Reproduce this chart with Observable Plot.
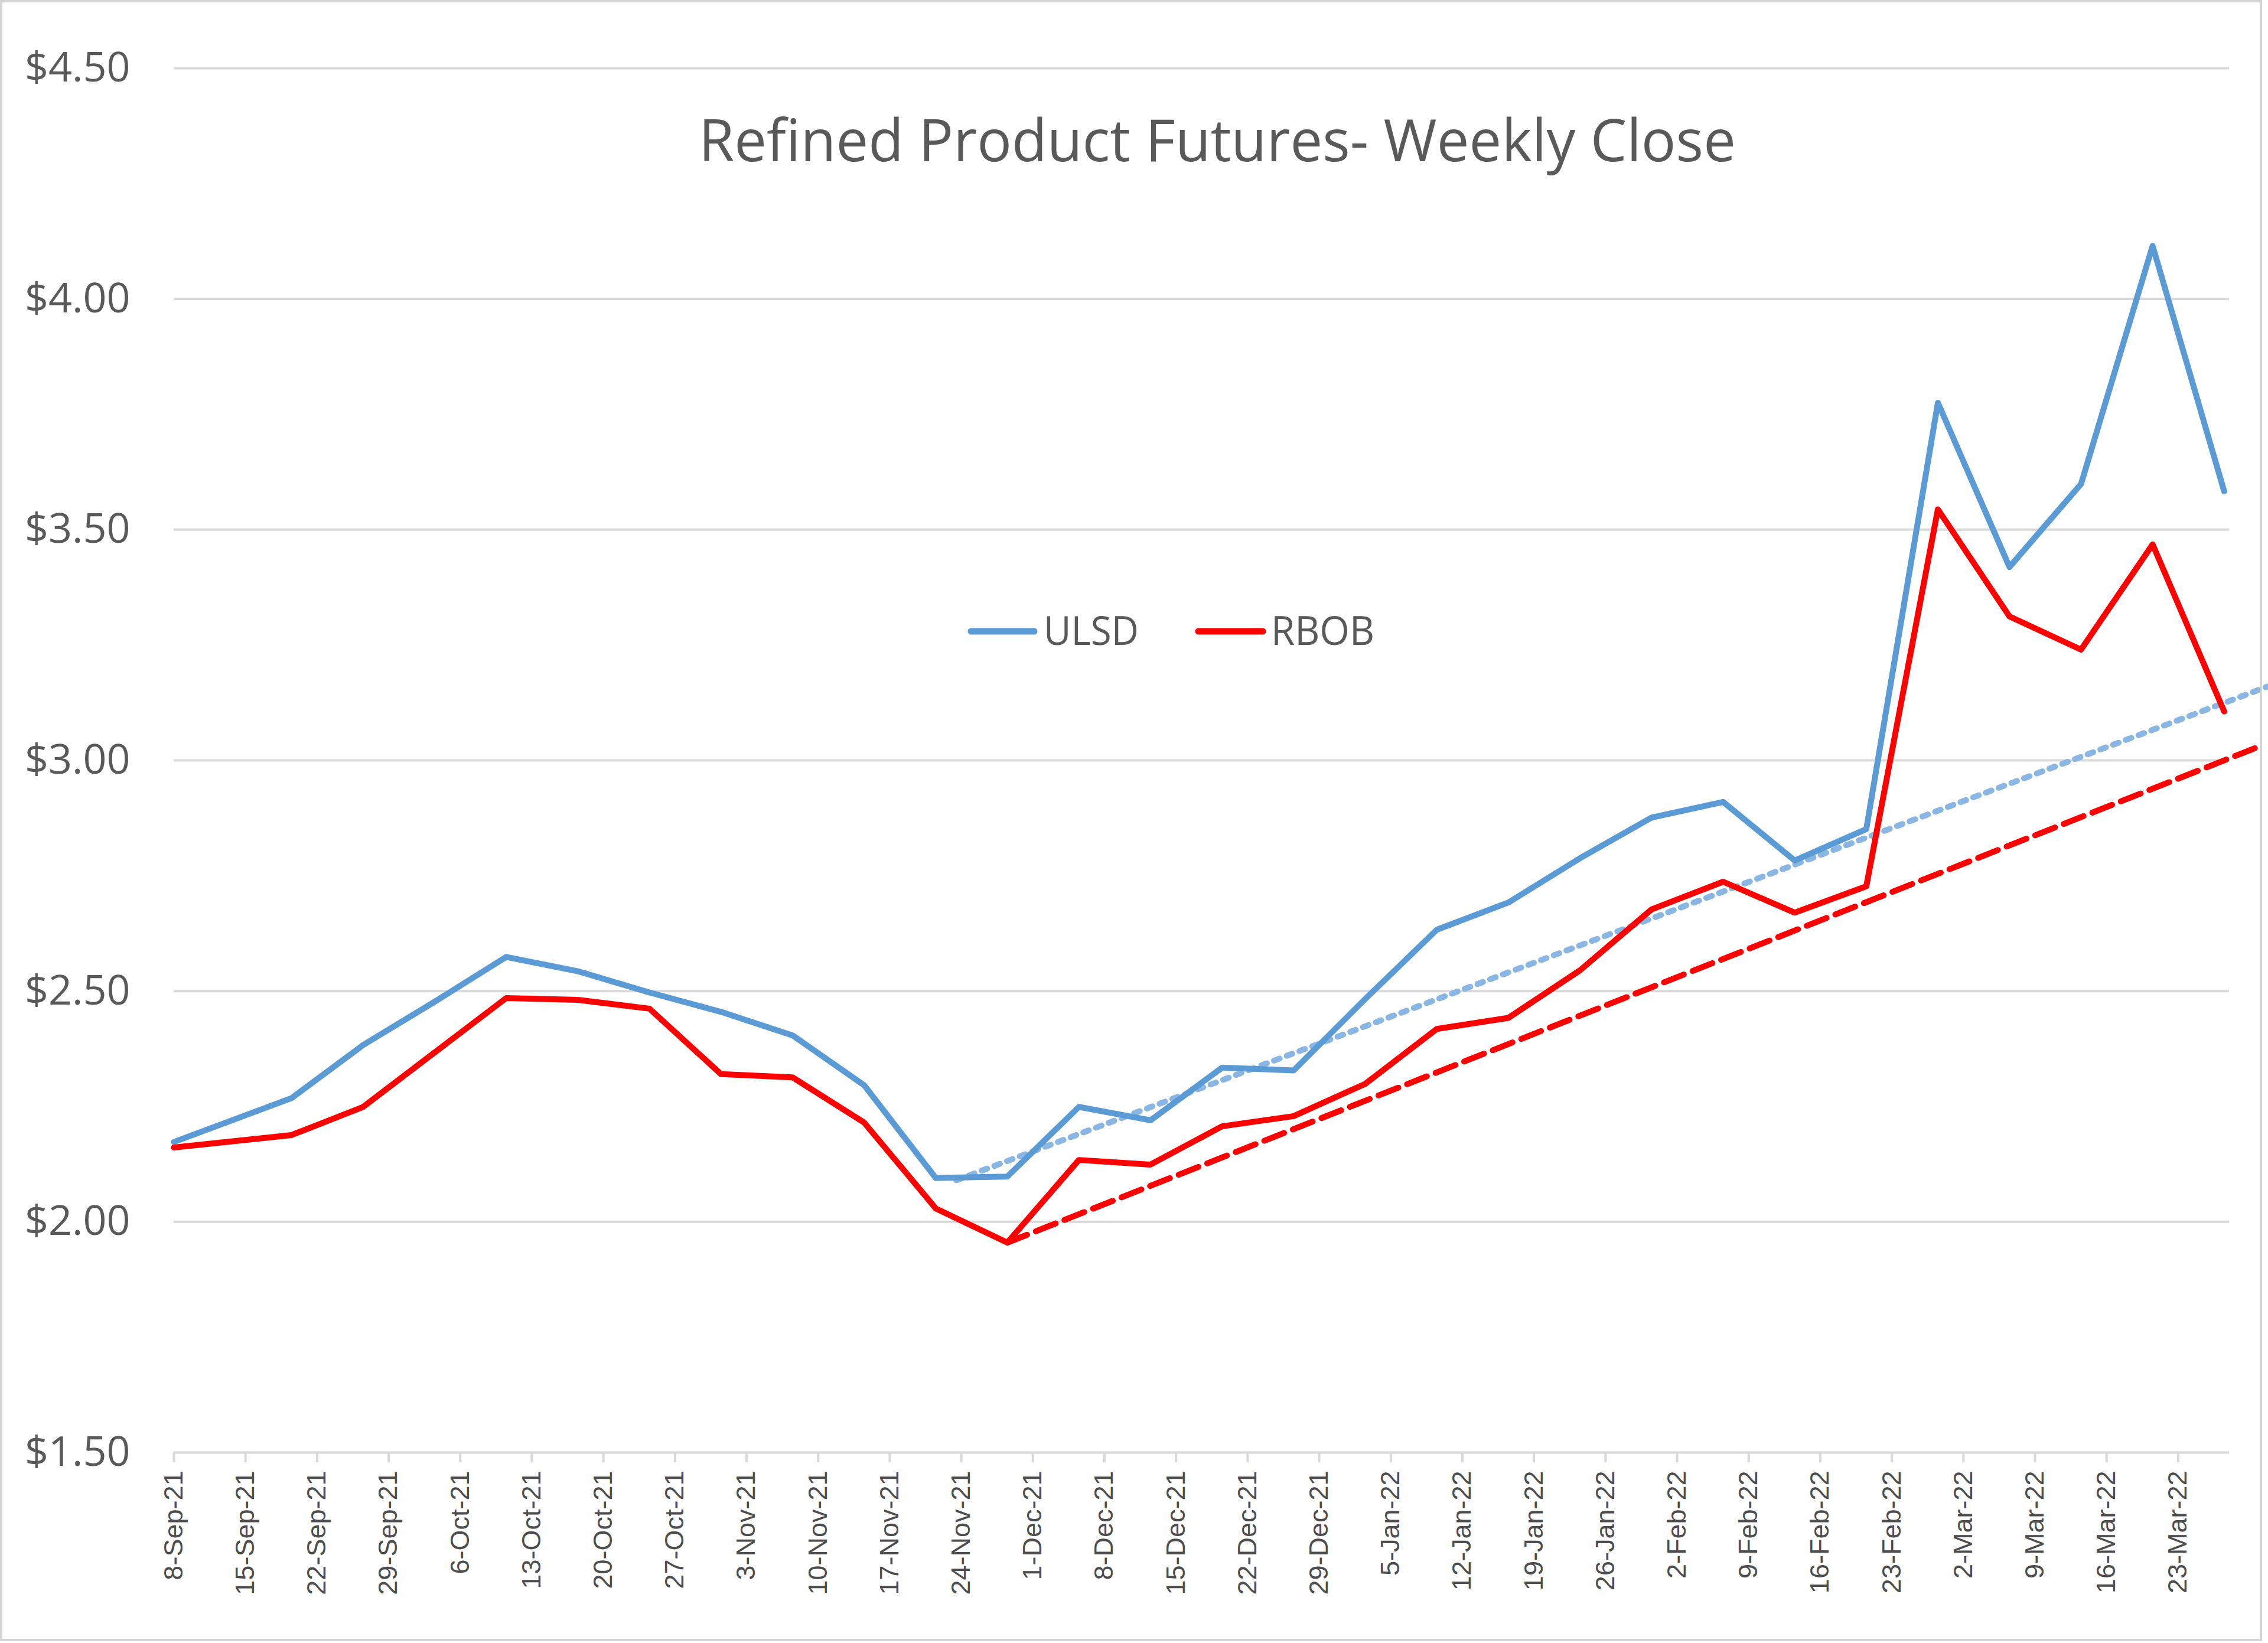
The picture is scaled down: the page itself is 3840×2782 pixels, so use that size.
<!DOCTYPE html>
<html><head><meta charset="utf-8">
<script src="https://cdn.jsdelivr.net/npm/d3@7"></script>
<script src="https://cdn.jsdelivr.net/npm/@observablehq/plot@0.6"></script>
<style>
html,body{margin:0;padding:0;background:#fff;}
#wrap{position:relative;width:3840px;height:2782px;overflow:hidden;background:#fff;}
#wrap > svg{position:absolute;left:0;top:0;}
#frame{position:absolute;left:0;top:0;width:3830px;height:2779px;border:4px solid #d4d4d4;box-sizing:border-box;pointer-events:none;}
</style></head><body><div id="wrap"></div>
<script>
// ---- data ----
const weekDates = [
  "2021-09-08T00:00", "2021-09-19T12:00", "2021-09-26T12:00", "2021-10-03T12:00",
  "2021-10-10T12:00", "2021-10-17T12:00", "2021-10-24T12:00", "2021-10-31T12:00",
  "2021-11-07T12:00", "2021-11-14T12:00", "2021-11-21T12:00", "2021-11-28T12:00",
  "2021-12-05T12:00", "2021-12-12T12:00", "2021-12-19T12:00", "2021-12-26T12:00",
  "2022-01-02T12:00", "2022-01-09T12:00", "2022-01-16T12:00", "2022-01-23T12:00",
  "2022-01-30T12:00", "2022-02-06T12:00", "2022-02-13T12:00", "2022-02-20T12:00",
  "2022-02-27T12:00", "2022-03-06T12:00", "2022-03-13T12:00", "2022-03-20T12:00",
  "2022-03-27T12:00"
];
const ulsdValues = [
  2.173, 2.268, 2.383, 2.477, 2.574, 2.543, 2.497, 2.455, 2.404, 2.296,
  2.095, 2.098, 2.249, 2.220, 2.334, 2.328, 2.483, 2.633, 2.692, 2.788,
  2.876, 2.910, 2.783, 2.851, 3.775, 3.419, 3.599, 4.115, 3.583
];
const rbobValues = [
  2.161, 2.188, 2.249, 2.367, 2.485, 2.481, 2.462, 2.320, 2.313, 2.215,
  2.029, 1.955, 2.134, 2.124, 2.207, 2.229, 2.299, 2.418, 2.442, 2.545,
  2.677, 2.737, 2.670, 2.727, 3.544, 3.312, 3.240, 3.468, 3.106
];
const ulsdTrendDates = ["2021-11-23T12:00", "2022-03-31T18:00"];
const ulsdTrendValues = [2.09, 3.16];
const rbobTrendDates = ["2021-11-28T12:00", "2022-03-30T22:00"];
const rbobTrendValues = [1.955, 3.03];
const xTickDates = [
  "2021-09-08", "2021-09-15", "2021-09-22", "2021-09-29", "2021-10-06", "2021-10-13",
  "2021-10-20", "2021-10-27", "2021-11-03", "2021-11-10", "2021-11-17", "2021-11-24",
  "2021-12-01", "2021-12-08", "2021-12-15", "2021-12-22", "2021-12-29", "2022-01-05",
  "2022-01-12", "2022-01-19", "2022-01-26", "2022-02-02", "2022-02-09", "2022-02-16",
  "2022-02-23", "2022-03-02", "2022-03-09", "2022-03-16", "2022-03-23"
];
const xDomain = ["2021-09-08", "2022-03-28"];
const yTicks = [1.5, 2.0, 2.5, 3.0, 3.5, 4.0, 4.5];
const seriesNames = ["ULSD", "RBOB"];
const seriesColors = ["#5B9BD5", "#FF0000"];
const trendColors = ["#8AB6E3", "#FF0000"];
const chartTitle = "Refined Product Futures- Weekly Close";

// ---- build ----
const P = s => new Date((s.length === 10 ? s + "T00:00" : s) + "Z");
const mk = (dates, vals) => dates.map((d, i) => ({date: P(d), value: vals[i]}));
const ulsd = mk(weekDates, ulsdValues);
const rbob = mk(weekDates, rbobValues);
const ulsdTrend = mk(ulsdTrendDates, ulsdTrendValues);
const rbobTrend = mk(rbobTrendDates, rbobTrendValues);
const xTicks = xTickDates.map(P);
const fmt = d3.utcFormat("%-d-%b-%y");

const chart = Plot.plot({
  width: 3840, height: 2782,
  marginLeft: 294, marginRight: 66, marginTop: 115, marginBottom: 323,
  style: {background: "white", fontFamily: "'Open Sans', sans-serif", color: "#595959", overflow: "visible"},
  x: {type: "utc", domain: xDomain.map(P)},
  y: {domain: [1.5, 4.5]},
  marks: [
    Plot.gridY(yTicks, {stroke: "#D9D9D9", strokeOpacity: 1, strokeWidth: 4}),
    Plot.axisX(xTicks, {tickSize: 17, tickPadding: 14, tickRotate: -90, tickFormat: fmt,
      stroke: "#D9D9D9", strokeWidth: 4, strokeOpacity: 1, fill: "#4d4d4d",
      fontSize: 45, fontFamily: "'Liberation Sans', Arial, sans-serif", label: null}),
    Plot.axisY(yTicks, {tickSize: 0, tickPadding: 74, tickFormat: d => "$" + d.toFixed(2),
      fontSize: 70, fill: "#595959", label: null}),
    Plot.line(ulsdTrend, {x: "date", y: "value", stroke: trendColors[0], strokeWidth: 10, strokeDasharray: "10,13"}),
    Plot.line(rbobTrend, {x: "date", y: "value", stroke: trendColors[1], strokeWidth: 10, strokeDasharray: "36,16"}),
    Plot.line(ulsd, {x: "date", y: "value", stroke: seriesColors[0], strokeWidth: 10, strokeLinejoin: "round", strokeLinecap: "round"}),
    Plot.line(rbob, {x: "date", y: "value", stroke: seriesColors[1], strokeWidth: 10, strokeLinejoin: "round", strokeLinecap: "round"})
  ]
});

const wrap = document.getElementById("wrap");
wrap.appendChild(chart);

// title and legend overlay
const ov = d3.select(wrap).append("svg")
  .attr("width", 3840).attr("height", 2782)
  .style("pointer-events", "none");
ov.append("text").text(chartTitle)
  .attr("x", 1183).attr("y", 273)
  .attr("font-family", "'Open Sans', sans-serif").attr("font-size", 98)
  .attr("fill", "#595959")
  .attr("textLength", 1756).attr("lengthAdjust", "spacingAndGlyphs");
const legendItems = [
  {x0: 1644, x1: 1751, tx: 1767, tl: 161},
  {x0: 2029, x1: 2138, tx: 2152, tl: 175}
];
legendItems.forEach((it, i) => {
  ov.append("line").attr("x1", it.x0).attr("x2", it.x1).attr("y1", 1069).attr("y2", 1069)
    .attr("stroke", seriesColors[i]).attr("stroke-width", 11).attr("stroke-linecap", "round");
  ov.append("text").text(seriesNames[i]).attr("x", it.tx).attr("y", 1092)
    .attr("font-family", "'Open Sans', sans-serif").attr("font-size", 68)
    .attr("fill", "#595959").attr("textLength", it.tl).attr("lengthAdjust", "spacingAndGlyphs");
});
const fr = document.createElement("div");
fr.id = "frame";
wrap.appendChild(fr);
</script></body></html>
